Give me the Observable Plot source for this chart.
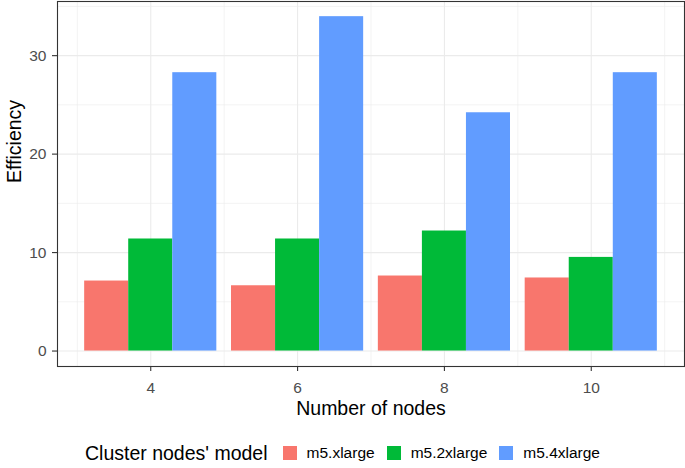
<!DOCTYPE html>
<html>
<head>
<meta charset="utf-8">
<script src="https://cdn.jsdelivr.net/npm/d3@7"></script>
<script src="https://cdn.jsdelivr.net/npm/@observablehq/plot@0.6"></script>
<style>
  html, body { margin: 0; padding: 0; background: #fff; }
  body { width: 685px; height: 468px; overflow: hidden; font-family: "Liberation Sans", Arial, sans-serif; }
  #legend { display: flex; align-items: center; justify-content: center; height: 46px; width: 685px; color: #000; }
  #legend .title { font-size: 19.5px; margin-right: 15px; }
  #legend .key { width: 14px; height: 14px; margin-right: 10px; }
  #legend .lab { font-size: 15.5px; margin-right: 12px; }
  #legend .lab:last-child { margin-right: 0; }
</style>
</head>
<body>
<div id="chart"></div>
<div id="legend"></div>
<script>
const nodes = [4, 6, 8, 10];
const models = ["m5.xlarge", "m5.2xlarge", "m5.4xlarge"];
const effM5xlarge = [7.11, 6.63, 7.62, 7.42];
const effM52xlarge = [11.38, 11.38, 12.19, 9.51];
const effM54xlarge = [28.27, 33.96, 24.2, 28.27];
const colors = ["#F8766D", "#00BA38", "#619CFF"];
const yMajor = [0, 10, 20, 30];
const yMinor = [5, 15, 25, 35];
const xMinor = [3, 5, 7, 9, 11];

const series = [effM5xlarge, effM52xlarge, effM54xlarge];
const data = nodes.flatMap((n, i) => models.map((m, j) => ({node: n, model: m, idx: j, value: series[j][i]})));

const gridColor = "#EBEBEB";
const chart = Plot.plot({
  width: 685,
  height: 430,
  marginLeft: 57,
  marginRight: 1,
  marginTop: 1,
  marginBottom: 64,
  style: {fontFamily: "Liberation Sans, Arial, sans-serif", background: "#fff"},
  x: {domain: [2.73, 11.27]},
  y: {domain: [-1.57, 35.5]},
  color: {domain: models, range: colors},
  marks: [
    Plot.ruleY(yMinor, {stroke: gridColor, strokeWidth: 0.6}),
    Plot.ruleX(xMinor, {stroke: gridColor, strokeWidth: 0.6}),
    Plot.ruleY(yMajor, {stroke: gridColor, strokeWidth: 1.1}),
    Plot.ruleX(nodes, {stroke: gridColor, strokeWidth: 1.1}),
    Plot.rectY(data, {
      x1: d => d.node - 0.9 + d.idx * 0.6,
      x2: d => d.node - 0.3 + d.idx * 0.6,
      y: "value",
      fill: "model",
      inset: 0
    }),
    Plot.frame({stroke: "#333333", strokeWidth: 1.1}),
    Plot.axisX({ticks: nodes, tickSize: 5, tickPadding: 10, fontSize: 15.5, fill: "#4D4D4D", stroke: "#333333", strokeWidth: 1.1, label: null}),
    Plot.axisY({ticks: yMajor, tickSize: 5, tickPadding: 6, fontSize: 15.5, fill: "#4D4D4D", stroke: "#333333", strokeWidth: 1.1, label: null}),
    Plot.text(["Number of nodes"], {frameAnchor: "bottom", dy: 48.5, fontSize: 19.5, fill: "#000"}),
    Plot.text(["Efficiency"], {frameAnchor: "left", dx: -43, dy: -1, rotate: -90, fontSize: 19.5, fill: "#000"})
  ]
});
document.getElementById("chart").appendChild(chart);

const legend = document.getElementById("legend");
const t = document.createElement("span");
t.className = "title";
t.textContent = "Cluster nodes' model";
legend.appendChild(t);
models.forEach((m, j) => {
  const k = document.createElement("span");
  k.className = "key";
  k.style.background = colors[j];
  legend.appendChild(k);
  const l = document.createElement("span");
  l.className = "lab";
  l.textContent = m;
  legend.appendChild(l);
});
</script>
</body>
</html>
